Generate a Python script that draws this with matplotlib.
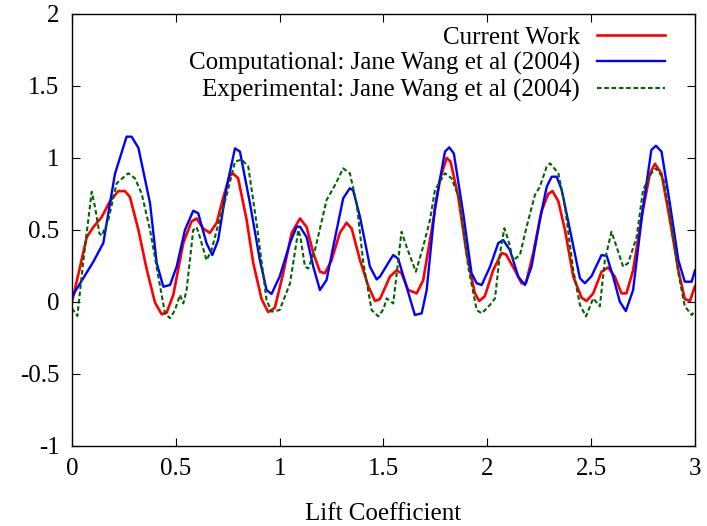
import matplotlib
matplotlib.use('Agg')
import matplotlib.pyplot as plt
from matplotlib.ticker import FuncFormatter, MultipleLocator

plt.rcParams['font.family'] = ['Liberation Serif', 'DejaVu Serif']
plt.rcParams['axes.unicode_minus'] = False

# Current Work
x_cur = [0.0, 0.039, 0.071, 0.103, 0.143, 0.183, 0.223, 0.255, 0.279, 0.32,
         0.36, 0.40, 0.432, 0.456, 0.488, 0.536, 0.576, 0.60, 0.632, 0.664,
         0.697, 0.729, 0.761, 0.777, 0.80, 0.841, 0.873, 0.913, 0.945, 0.977,
         1.017, 1.058, 1.098, 1.13, 1.162, 1.194, 1.218, 1.25, 1.29, 1.322,
         1.347, 1.387, 1.427, 1.459, 1.483, 1.531, 1.563, 1.587, 1.619, 1.66,
         1.691, 1.732, 1.772, 1.804, 1.823, 1.86, 1.90, 1.94, 1.961, 1.988,
         2.028, 2.069, 2.09, 2.133, 2.165, 2.186, 2.221, 2.261, 2.293, 2.314,
         2.342, 2.374, 2.414, 2.454, 2.478, 2.51, 2.55, 2.582, 2.614, 2.646,
         2.67, 2.702, 2.743, 2.783, 2.807, 2.839, 2.879, 2.92, 2.951, 2.976, 3.0]
y_cur = [0.0, 0.245, 0.45, 0.52, 0.59, 0.70, 0.77, 0.77, 0.73, 0.50,
         0.226, -0.005, -0.085, -0.074, 0.05, 0.41, 0.56, 0.58, 0.51, 0.48,
         0.55, 0.73, 0.88, 0.89, 0.86, 0.57, 0.27, 0.02, -0.07, -0.04,
         0.2, 0.48, 0.58, 0.52, 0.34, 0.21, 0.20, 0.29, 0.48, 0.55,
         0.51, 0.29, 0.11, 0.007, 0.02, 0.176, 0.22, 0.2, 0.083, 0.06,
         0.15, 0.5, 0.85, 1.0, 0.975, 0.73, 0.34, 0.06, 0.007, 0.04,
         0.22, 0.34, 0.33, 0.22, 0.13, 0.13, 0.34, 0.63, 0.75, 0.77,
         0.70, 0.5, 0.176, 0.03, 0.007, 0.06, 0.21, 0.24, 0.176, 0.06,
         0.06, 0.22, 0.59, 0.89, 0.96, 0.89, 0.57, 0.22, 0.02, 0.007, 0.11]

# Computational: Jane Wang et al (2004)
x_comp = [0.0, 0.014, 0.103, 0.151, 0.207, 0.263, 0.287, 0.32, 0.376, 0.408,
          0.44, 0.472, 0.504, 0.544, 0.584, 0.608, 0.648, 0.676, 0.704, 0.745,
          0.785, 0.809, 0.857, 0.905, 0.937, 0.961, 1.0, 1.05, 1.082, 1.098,
          1.13, 1.162, 1.194, 1.226, 1.258, 1.306, 1.338, 1.354, 1.387, 1.435,
          1.467, 1.483, 1.531, 1.547, 1.571, 1.611, 1.651, 1.684, 1.708, 1.748,
          1.796, 1.817, 1.839, 1.884, 1.924, 1.949, 1.973, 2.013, 2.053, 2.077,
          2.109, 2.149, 2.181, 2.213, 2.253, 2.286, 2.31, 2.334, 2.358, 2.398,
          2.446, 2.47, 2.502, 2.55, 2.575, 2.606, 2.638, 2.667, 2.702, 2.75,
          2.79, 2.812, 2.839, 2.879, 2.92, 2.951, 2.984, 3.0]
y_comp = [0.03, 0.07, 0.28, 0.41, 0.89, 1.148, 1.148, 1.07, 0.685, 0.27,
          0.106, 0.118, 0.245, 0.50, 0.634, 0.616, 0.408, 0.326, 0.43, 0.80,
          1.067, 1.044, 0.685, 0.29, 0.083, 0.056, 0.176, 0.41, 0.523, 0.523,
          0.45, 0.245, 0.083, 0.153, 0.384, 0.72, 0.79, 0.775, 0.59, 0.245,
          0.157, 0.176, 0.29, 0.326, 0.30, 0.106, -0.09, -0.079, 0.083, 0.66,
          1.044, 1.074, 1.03, 0.616, 0.20, 0.13, 0.118, 0.245, 0.41, 0.43,
          0.36, 0.176, 0.118, 0.245, 0.57, 0.80, 0.87, 0.87, 0.78, 0.50,
          0.165, 0.13, 0.18, 0.326, 0.32, 0.176, 0.002, -0.063, 0.083, 0.66,
          1.056, 1.085, 1.044, 0.685, 0.29, 0.141, 0.141, 0.22]

# Experimental: Jane Wang et al (2004)
x_exp = [0.0, 0.026, 0.055, 0.095, 0.111, 0.132, 0.143, 0.175, 0.215, 0.271,
         0.303, 0.335, 0.376, 0.416, 0.448, 0.472, 0.496, 0.52, 0.536, 0.552,
         0.584, 0.60, 0.616, 0.648, 0.672, 0.697, 0.745, 0.785, 0.817, 0.849,
         0.889, 0.937, 0.961, 1.0, 1.05, 1.09, 1.10, 1.122, 1.138, 1.17,
         1.226, 1.266, 1.306, 1.338, 1.371, 1.403, 1.443, 1.475, 1.50, 1.515,
         1.547, 1.587, 1.611, 1.656, 1.691, 1.724, 1.748, 1.796, 1.828, 1.868,
         1.908, 1.949, 1.973, 2.013, 2.037, 2.061, 2.082, 2.101, 2.125, 2.157,
         2.189, 2.229, 2.253, 2.286, 2.302, 2.342, 2.374, 2.414, 2.446, 2.475,
         2.51, 2.542, 2.566, 2.598, 2.625, 2.654, 2.678, 2.719, 2.75, 2.79,
         2.812, 2.847, 2.879, 2.92, 2.951, 2.984, 3.0]
y_exp = [-0.044, -0.097, 0.29, 0.766, 0.66, 0.477, 0.46, 0.57, 0.824, 0.894,
         0.859, 0.755, 0.50, 0.176, -0.079, -0.113, -0.056, 0.049, -0.01, 0.083,
         0.50, 0.52, 0.45, 0.29, 0.36, 0.50, 0.743, 0.974, 0.99, 0.94,
         0.546, 0.014, -0.067, -0.056, 0.13, 0.50, 0.45, 0.245, 0.233, 0.36,
         0.708, 0.81, 0.928, 0.894, 0.685, 0.27, -0.056, -0.10, -0.05, 0.025,
         -0.01, 0.488, 0.384, 0.21, 0.384, 0.57, 0.778, 0.894, 0.859, 0.708,
         0.245, -0.056, -0.079, -0.02, 0.025, 0.338, 0.512, 0.43, 0.29, 0.326,
         0.52, 0.743, 0.80, 0.94, 0.963, 0.894, 0.66, 0.22, -0.02, -0.10,
         0.025, -0.03, 0.29, 0.488, 0.372, 0.245, 0.27, 0.45, 0.778, 0.894,
         0.928, 0.859, 0.616, 0.2, -0.03, -0.09, -0.06]

fig = plt.figure(figsize=(7.07, 5.26), dpi=100)
ax = fig.add_axes([0.1018, 0.1521, 0.8812, 0.8213])

ax.plot(x_cur, y_cur, color='#ff0000', lw=1.9, label='Current Work')
ax.plot(x_comp, y_comp, color='#0000ff', lw=1.7,
        label='Computational: Jane Wang et al (2004)')
ax.plot(x_exp, y_exp, color='#006400', lw=1.5, dashes=(2.2, 1.3),
        label='Experimental: Jane Wang et al (2004)')

ax.set_xlim(0, 3)
ax.set_ylim(-1, 2)
ax.xaxis.set_major_locator(MultipleLocator(0.5))
ax.yaxis.set_major_locator(MultipleLocator(0.5))
fmt = FuncFormatter(lambda v, pos: '%g' % v)
ax.xaxis.set_major_formatter(fmt)
ax.yaxis.set_major_formatter(fmt)
ax.tick_params(direction='in', length=6, width=0.8, top=True, right=True,
               labelsize=18)
ax.tick_params(axis='x', pad=9)
ax.tick_params(axis='y', pad=9)
for s in ax.spines.values():
    s.set_linewidth(1.0)

ax.set_xlabel('Lift Coefficient', fontsize=18, labelpad=16)

ax.legend(loc='upper right', bbox_to_anchor=(0.952, 0.972), frameon=False,
          markerfirst=False, fontsize=18, handlelength=2.72,
          handletextpad=0.68, labelspacing=0.15, borderaxespad=0, borderpad=0)

fig.savefig('out.png', dpi=100)
